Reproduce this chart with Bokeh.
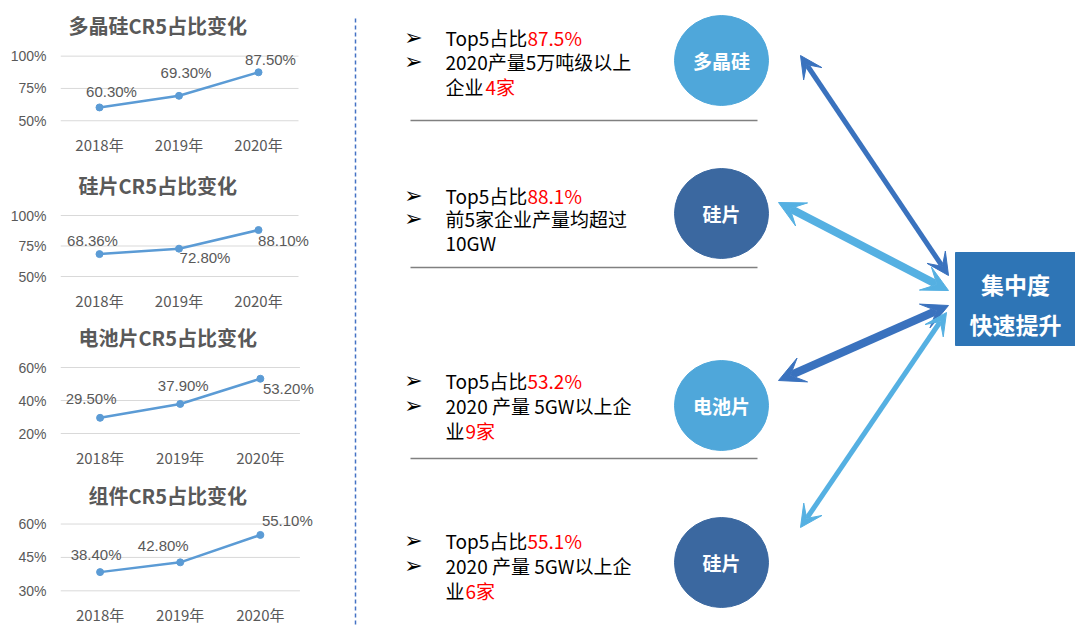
from bokeh.plotting import figure
from bokeh.layouts import row, column
from bokeh.models import Range1d, Title, Arrow, VeeHead
from bokeh.core.properties import value
from bokeh.embed import file_html
from bokeh.resources import INLINE

# ---------------- data ----------------
years = ["2018年", "2019年", "2020年"]
poly = [60.3, 69.3, 87.5]
wafer = [68.36, 72.8, 88.1]
cell = [29.5, 37.9, 53.2]
module = [38.4, 42.8, 55.1]
chart_titles = ["多晶硅CR5占比变化", "硅片CR5占比变化", "电池片CR5占比变化", "组件CR5占比变化"]
ticks_poly = [50, 75, 100]
ticks_wafer = [50, 75, 100]
ticks_cell = [20, 40, 60]
ticks_module = [30, 45, 60]

top5_share = ["87.5%", "88.1%", "53.2%", "55.1%"]
line2_text = ["2020产量5万吨级以上", "前5家企业产量均超过", "2020 产量 5GW以上企", "2020 产量 5GW以上企"]
line3_black = ["企业", "10GW", "业", "业"]
line3_red = ["4家", "", "9家", "6家"]
circle_labels = ["多晶硅", "硅片", "电池片", "硅片"]
box_lines = ["集中度", "快速提升"]

# ---------------- styles / layout ----------------
GRAY = "#595959"
LINE_BLUE = "#5B9BD5"
LIGHT = "#4FA7DA"
DARK = "#3B68A0"
CJK = "Noto Sans CJK SC"

# per chart: (fig height, frame left, frame top, frame bottom, px top tick, px bottom tick,
#             title offset, title standoff, first point px, point spacing px)
geoms = [
    (157, 60, 46, 130, 56, 123, 8, 14, 99, 79.5),
    (157, 60, 48, 126, 58, 119, 18, 11, 99, 79.5),
    (157, 50, 43, 126, 53, 119, 18, 11, 91, 83),
    (156, 50, 43, 130, 53, 123, 28, 9, 91, 83),
]
label_dx = [[12, 7, 12], [-7, 26, 25], [-9, 3, 28], [-4, -17, 27]]
label_dy = [[-16, -23, -13], [-14, 9, 10], [-19, -18, 10], [-18, -17, -14]]
GRID_RIGHT = 298
LEFT_W = 340


def mini_chart(vals, ticks, title, geom, dx, dy):
    h, fl, ft, fb, p_hi, p_lo, toff, tstand, px0, unit = geom
    t_lo, t_hi = ticks[0], ticks[-1]
    scale = (p_lo - p_hi) / (t_hi - t_lo)
    y0 = t_lo - (fb - p_lo) / scale
    y1 = t_hi + (p_hi - ft) / scale
    x0 = -(px0 - fl) / unit
    x1 = (LEFT_W - px0) / unit
    xg = (GRID_RIGHT - px0) / unit
    xs = list(range(len(years)))
    f = figure(width=LEFT_W, height=h, x_range=Range1d(x0, x1), y_range=Range1d(y0, y1),
               output_backend="svg", toolbar_location=None,
               min_border_left=fl, min_border_right=0,
               min_border_top=ft, min_border_bottom=h - fb)
    f.outline_line_color = None
    f.background_fill_color = "white"
    f.border_fill_color = "white"
    t = Title(text=title, align="left", offset=toff, standoff=tstand,
              text_font=CJK, text_font_size="20px", text_font_style="bold", text_color=GRAY)
    f.add_layout(t, "above")
    f.grid.visible = False
    f.segment(x0=[x0] * len(ticks), x1=[xg] * len(ticks), y0=ticks, y1=ticks,
              line_color="#D9D9D9", line_width=1)
    f.yaxis.ticker = ticks
    f.yaxis.major_label_overrides = {v: f"{v}%" for v in ticks}
    f.xaxis.ticker = xs
    f.xaxis.major_label_overrides = {i: y for i, y in zip(xs, years)}
    for ax in (f.xaxis[0], f.yaxis[0]):
        ax.axis_line_color = None
        ax.major_tick_line_color = None
        ax.minor_tick_line_color = None
        ax.major_tick_out = 0
        ax.major_tick_in = 0
        ax.major_label_text_color = GRAY
    f.yaxis.major_label_standoff = 14
    f.yaxis.major_label_text_font = "Liberation Sans"
    f.yaxis.major_label_text_font_size = "14px"
    f.xaxis.major_label_standoff = 6
    f.xaxis.major_label_text_font = CJK
    f.xaxis.major_label_text_font_size = "15px"
    f.line(xs, vals, line_color=LINE_BLUE, line_width=2.5)
    f.scatter(xs, vals, size=7, color=LINE_BLUE)
    f.text(x=xs, y=vals, text=[f"{v:.2f}%" for v in vals], x_offset=dx, y_offset=dy,
           text_align="center", text_baseline="middle", text_font=value("Liberation Sans"),
           text_font_size="15px", text_color=GRAY)
    return f


charts = []
for vals, ticks, ttl, g, dx, dy in zip([poly, wafer, cell, module],
                                       [ticks_poly, ticks_wafer, ticks_cell, ticks_module],
                                       chart_titles, geoms, label_dx, label_dy):
    charts.append(mini_chart(vals, ticks, ttl, g, dx, dy))

# ---------------- right panel ----------------
p = figure(width=1075 - LEFT_W, height=627, x_range=Range1d(LEFT_W, 1075), y_range=Range1d(627, 0),
           output_backend="svg", toolbar_location=None, min_border=0)
p.axis.visible = False
p.grid.visible = False
p.outline_line_color = None

# dashed separator
p.line([355, 355], [18, 627], line_color="#4472C4", line_width=1.5, line_dash="4 3")

row1_y = [37, 195, 380, 540]
row2_y = [61, 218, 405, 565]
row3_y = [86, 242, 430, 590]
TEXT_X = 445
RED_X = 527
red3_x = [485, 0, 465, 465]

p.text(x=[413] * 8, y=row1_y + row2_y, text=["➢"] * 8, text_align="center", text_baseline="middle",
       text_font=value("DejaVu Sans"), text_font_size="22px", text_font_style="bold", text_color="black")
p.text(x=[TEXT_X] * 4, y=row1_y, text=["Top5占比"] * 4, text_baseline="middle",
       text_font=value(CJK), text_font_size="19px", text_color="black")
p.text(x=[RED_X] * 4, y=row1_y, text=top5_share, text_baseline="middle",
       text_font=value(CJK), text_font_size="19px", text_color="#FF0000")
p.text(x=[TEXT_X] * 4, y=row2_y, text=line2_text, text_baseline="middle",
       text_font=value(CJK), text_font_size="19px", text_color="black")
p.text(x=[TEXT_X] * 4, y=row3_y, text=line3_black, text_baseline="middle",
       text_font=value(CJK), text_font_size="19px", text_color="black")
p.text(x=[red3_x[i] for i in (0, 2, 3)], y=[row3_y[i] for i in (0, 2, 3)],
       text=[line3_red[i] for i in (0, 2, 3)], text_baseline="middle",
       text_font=value(CJK), text_font_size="19px", text_color="#FF0000")

sep_y = [120, 267, 458]
p.segment(x0=[410] * 3, x1=[757] * 3, y0=sep_y, y1=sep_y, line_color="#808080", line_width=1.5)

circ_y = [60, 213, 405, 562]
circ_col = [LIGHT, DARK, LIGHT, DARK]
p.ellipse(x=[721] * 4, y=circ_y, width=94, height=90, fill_color=circ_col, line_color=circ_col)
p.text(x=[721] * 4, y=circ_y, text=circle_labels, text_align="center", text_baseline="middle",
       text_font=value(CJK), text_font_size="19px", text_font_style="bold", text_color="white")

# box
p.quad(left=955, right=1075, top=252, bottom=345, fill_color="#2E75B6", line_color="#2E75B6")
p.text(x=[1015, 1015], y=[283, 323], text=box_lines, text_align="center", text_baseline="middle",
       text_font=value(CJK), text_font_size="23px", text_font_style="bold", text_color="white")

# arrows
ARROW_DARK = "#3A72BE"
ARROW_LIGHT = "#55B0E2"
arrows = [
    (800, 55, 948, 275, ARROW_DARK, 5, 22),
    (778, 202, 948, 290, ARROW_LIGHT, 8, 26),
    (778, 380, 948, 305, ARROW_DARK, 8, 26),
    (800, 527, 946, 312, ARROW_LIGHT, 5, 22),
]
for xs_, ys_, xe_, ye_, c, w, s in arrows:
    p.add_layout(Arrow(x_start=xs_, y_start=ys_, x_end=xe_, y_end=ye_, line_color=c, line_width=w,
                       start=VeeHead(size=s, fill_color=c, line_color=c),
                       end=VeeHead(size=s, fill_color=c, line_color=c)))

layout = row(column(*charts), p)
open("out.html", "w").write(file_html(layout, INLINE))
